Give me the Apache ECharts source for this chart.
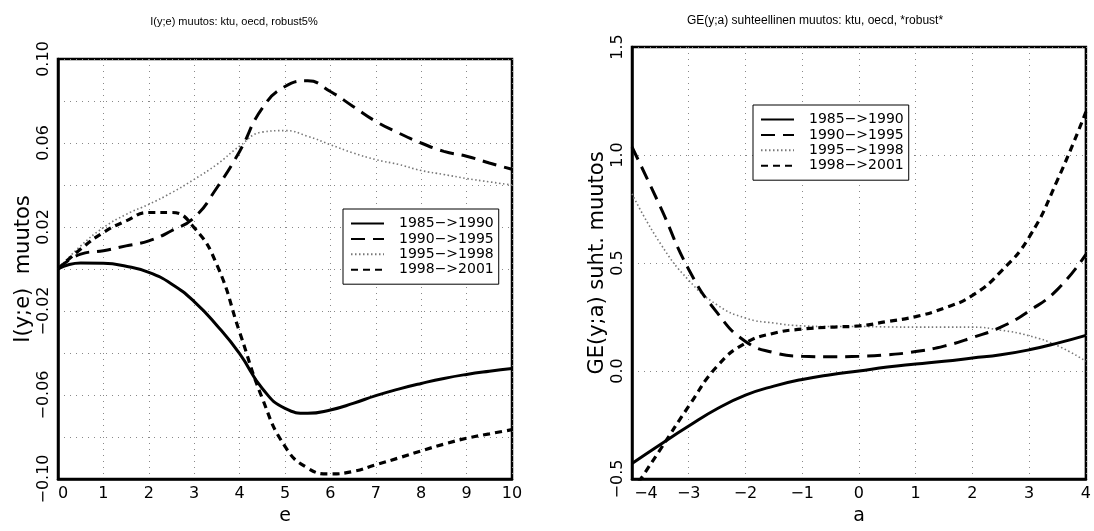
<!DOCTYPE html>
<html>
<head>
<meta charset="utf-8">
<script src="https://cdn.jsdelivr.net/npm/echarts@6/dist/echarts.min.js"></script>
<style>
html,body{margin:0;padding:0;background:#fff;}
#c{width:1094px;height:531px;}
</style>
</head>
<body>
<div id="c"></div>
<script>
// ---- data ----
const seriesNames = ['1985\u2212>1990', '1990\u2212>1995', '1995\u2212>1998', '1998\u2212>2001'];

const titleLeft = 'I(y;e) muutos: ktu, oecd, robust5%';
const titleRight = 'GE(y;a) suhteellinen muutos: ktu, oecd, *robust*';
const xNameLeft = 'e';
const yNameLeft = 'I(y;e)  muutos';
const xNameRight = 'a';
const yNameRight = 'GE(y;a) suht. muutos';

// left panel: e grid
const eVals = [0,0.5,1,1.5,2,2.5,3,3.5,4,4.5,5,5.5,6,6.5,7,7.5,8,8.5,9,9.5,10];
const L1985_1990 = [0,0.0028,0.0027,0.0013,-0.0016,-0.0071,-0.0155,-0.0269,-0.0403,-0.0569,-0.0664,-0.0687,-0.0671,-0.064,-0.0603,-0.0572,-0.0545,-0.0521,-0.0502,-0.0487,-0.0474];
const L1990_1995 = [0,0.0071,0.0087,0.011,0.0134,0.0182,0.0245,0.0387,0.056,0.0766,0.0869,0.0896,0.0845,0.0774,0.0703,0.0648,0.060,0.056,0.0537,0.0505,0.0475];
const L1995_1998 = [0,0.011,0.0197,0.026,0.0308,0.0363,0.0427,0.0498,0.0585,0.0652,0.0659,0.0632,0.0592,0.0553,0.0521,0.0498,0.0469,0.045,0.0431,0.0415,0.040];
const L1998_2001 = [0,0.0095,0.0174,0.0229,0.0269,0.0269,0.0197,0.002,-0.030,-0.0616,-0.0845,-0.0948,-0.0976,-0.0964,-0.0932,-0.090,-0.0866,-0.0834,-0.0806,-0.0785,-0.0765];

// right panel: a grid
const aVals = [-4,-3.5,-3,-2.5,-2,-1.5,-1,-0.5,0,0.5,1,1.5,2,2.5,3,3.5,4];
const R1985_1990 = [-0.428,-0.34,-0.255,-0.175,-0.112,-0.07,-0.039,-0.017,0.0,0.018,0.032,0.045,0.06,0.075,0.098,0.129,0.165];
const R1990_1995 = [1.037,0.76,0.47,0.27,0.137,0.085,0.068,0.066,0.068,0.075,0.09,0.115,0.155,0.203,0.278,0.378,0.54];
const R1995_1998 = [0.82,0.59,0.42,0.306,0.245,0.222,0.209,0.206,0.206,0.204,0.203,0.203,0.203,0.189,0.163,0.117,0.045];
const R1998_2001 = [-0.56,-0.363,-0.163,0.022,0.129,0.175,0.194,0.203,0.209,0.229,0.252,0.291,0.35,0.46,0.62,0.885,1.2];

// ---- styling ----
const FONT = 'DejaVu Sans';
const lineStyles = [
  {color:'#000', width:3, type:'solid'},
  {color:'#000', width:3, type:[14,8]},
  {color:'#777', width:1.6, type:[1.5,2.5]},
  {color:'#000', width:3.2, type:[7,5]}
];
const gridLine = {lineStyle:{color:'#888', width:1, type:[1,5]}};

function pairs(xs, ys){ return xs.map((x,i)=>[x, ys[i]]); }
function minus(s){ return s.replace('-', '\u2212'); }

function makeSeries(xIdx, xs, ysList){
  return ysList.map((ys, i)=>({
    name: seriesNames[i],
    type: 'line',
    xAxisIndex: xIdx, yAxisIndex: xIdx,
    data: pairs(xs, ys),
    smooth: 0.5,
    symbol: 'none',
    showSymbol: false,
    clip: true,
    lineStyle: lineStyles[i],
    itemStyle: {color: lineStyles[i].color},
    z: 5 - (i===2 ? 1 : 0)
  }));
}

function xAxisCfg(gi, min, max, firstPad, name){
  return {
    type:'value', gridIndex: gi, min, max, interval:1,
    name, nameLocation:'middle', nameGap:28,
    nameTextStyle:{fontFamily:FONT, fontSize:19, color:'#000'},
    axisLine:{show:true, onZero:false, lineStyle:{color:'#000', width:2.5}},
    axisTick:{show:false},
    splitLine:{show:true, ...gridLine},
    axisLabel:{
      color:'#000', fontFamily:FONT, fontSize:16, margin:7,
      formatter:(v, idx)=>{
        const t = minus(String(Math.round(v)));
        return idx===0 ? '{f|'+t+'}' : t;
      },
      rich:{f:{fontFamily:FONT, fontSize:16, color:'#000', padding:[0,0,0,firstPad]}}
    }
  };
}

function yAxisCfg(gi, min, max, interval, dec, name, minor){
  return {
    type:'value', gridIndex: gi, min, max, interval,
    name, nameLocation:'middle', nameGap:24, nameRotate:90,
    nameTextStyle:{fontFamily:FONT, fontSize:21, color:'#000'},
    axisLine:{show:true, onZero:false, lineStyle:{color:'#000', width:2.5}},
    axisTick:{show:false},
    splitLine:{show:true, ...gridLine},
    minorTick:{show:false, splitNumber:minor || 5},
    minorSplitLine:{show:!!minor, ...gridLine},
    axisLabel:{
      color:'#000', fontFamily:FONT, fontSize:16, rotate:90, margin:6,
      formatter:(v)=> minus((Math.round(v*1000)/1000).toFixed(dec))
    }
  };
}

function legendCfg(left, top){
  return {
    orient:'vertical', left, top, align:'left',
    data: seriesNames,
    itemWidth:33, itemHeight:10, itemGap:0.4,
    padding:[7,5,7,7],
    borderColor:'#000', borderWidth:1, backgroundColor:'#fff',
    selectedMode:false,
    itemStyle:{opacity:0},
    textStyle:{fontFamily:FONT, fontSize:14, color:'#000', lineHeight:15, padding:[0,0,0,10]}
  };
}

const chart = echarts.init(document.getElementById('c'), null, {renderer:'canvas'});
chart.setOption({
  animation:false,
  backgroundColor:'#fff',
  title:[
    {text:titleLeft, left:234, top:16, padding:0, textAlign:'center', textVerticalAlign:'top',
     textStyle:{fontFamily:'Liberation Sans', fontSize:11, fontWeight:'normal', color:'#000'}},
    {text:titleRight, left:815, top:15, padding:0, textAlign:'center', textVerticalAlign:'top',
     textStyle:{fontFamily:'Liberation Sans', fontSize:12, fontWeight:'normal', color:'#000'}}
  ],
  grid:[
    {left:58, right:1094-512, top:59, bottom:531-481, show:true, borderColor:'#000', borderWidth:2.5, backgroundColor:'transparent'},
    {left:632, right:-3, top:47, bottom:531-480, show:true, borderColor:'#000', borderWidth:2.5, backgroundColor:'transparent'}
  ],
  xAxis:[
    xAxisCfg(0, 0, 10, 10, xNameLeft),
    xAxisCfg(1, -4, 4, 28, xNameRight)
  ],
  yAxis:[
    yAxisCfg(0, -0.1, 0.1, 0.04, 2, yNameLeft, 2),
    yAxisCfg(1, -0.5, 1.5, 0.5, 1, yNameRight, 0)
  ],
  legend:[legendCfg(343, 209), legendCfg(753, 105)],
  series:[
    ...makeSeries(0, eVals, [L1985_1990, L1990_1995, L1995_1998, L1998_2001]),
    ...makeSeries(1, aVals, [R1985_1990, R1990_1995, R1995_1998, R1998_2001])
  ]
});
</script>
</body>
</html>
